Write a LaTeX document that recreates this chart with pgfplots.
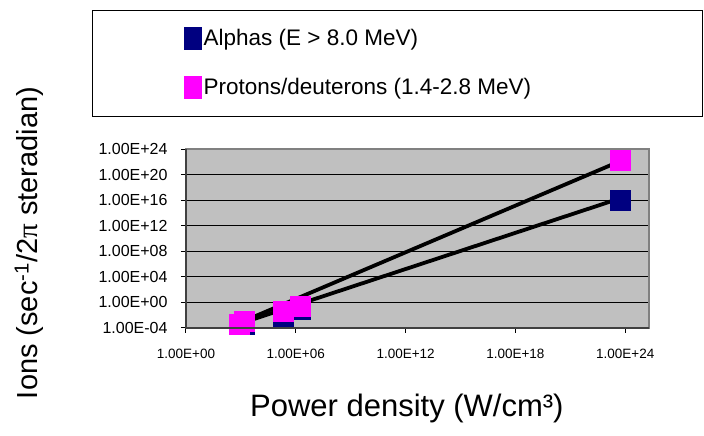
\documentclass[border=0pt]{standalone}
\usepackage{fontspec}
\setmainfont{Liberation Sans}
\newfontfamily\pifont{Liberation Serif}
\usepackage{pgfplots}
\pgfplotsset{compat=1.18}
\definecolor{navyc}{HTML}{000080}
\definecolor{magc}{HTML}{FF00FF}
\definecolor{plotgray}{HTML}{C0C0C0}
\definecolor{framegray}{HTML}{808080}
\definecolor{axisdark}{HTML}{404040}
\begin{document}
\begin{tikzpicture}
\useasboundingbox (0,0) rectangle (704pt,436pt);
\draw[line width=0.9pt] (92pt,320pt) rectangle (702pt,426pt);
\begin{axis}[
  at={(186pt,108pt)}, anchor=south west,
  scale only axis, width=463pt, height=179pt,
  xmode=log, ymode=log,
  xmin=1, xmax=2e25, ymin=1e-4, ymax=1e24,
  xtick={1,1e6,1e12,1e18,1e24},
  xticklabels={1.00E+00,1.00E+06,1.00E+12,1.00E+18,1.00E+24},
  ytick={1e-4,1,1e4,1e8,1e12,1e16,1e20,1e24},
  yticklabels={1.00E-04,1.00E+00,1.00E+04,1.00E+08,1.00E+12,1.00E+16,1.00E+20,1.00E+24},
  xminorticks=false, yminorticks=false,
  tick align=outside, xtick pos=bottom, ytick pos=left,
  major tick length=5pt,
  tick style={black, line width=1pt},
  ymajorgrids, grid style={black, line width=0.8pt},
  axis background/.style={fill=plotgray},
  axis line style={draw=framegray, line width=1.5pt},
  xticklabel style={font=\fontsize{13.5}{16}\selectfont, yshift=-13pt},
  yticklabel style={font=\fontsize{16}{18}\selectfont, xshift=-10pt},
  xlabel={Power density (W/cm³)},
  xlabel style={at={(axis description cs:0.477,-0.447)}, anchor=center, font=\fontsize{31}{36}\selectfont},
  ylabel={Ions (sec\textsuperscript{-1}/2{\pifont π} steradian)},
  ylabel style={at={(axis description cs:-0.339,0.475)}, anchor=center, font=\fontsize{29}{34}\selectfont},
  clip=false,
  legend style={draw=none, fill=none, at={(axis description cs:-0.0043,1.685)}, anchor=north west,
    font=\fontsize{22.5}{26}\selectfont, row sep=27pt, inner sep=0pt},
  legend cell align=left,
  legend image code/.code={\fill[#1] (0pt,-11pt) rectangle (17pt,11pt);},
  after end axis/.code={\draw[line width=1.8pt, axisdark] (rel axis cs:0,1) -- (rel axis cs:0,0) -- (rel axis cs:1,0);},
]
\addplot[only marks, mark=square*, mark size=10pt, color=navyc] coordinates {
(1450,4.3e-4) (2.1e5,7.6e-3) (1.66e6,9.3e-2) (5.4e23,1.1e16)};
\addlegendentry{Alphas (E > 8.0 MeV)}
\addplot[only marks, mark=square*, mark size=10pt, color=magc] coordinates {
(780,3.5e-4) (1450,1.26e-3) (2.1e5,4.6e-2) (1.66e6,0.27) (5.4e23,1.9e22)};
\addlegendentry{Protons/deuterons (1.4-2.8 MeV)}
\addplot[black, line width=3.8pt, forget plot] coordinates {(250,1.45e-4) (4.2e23,1.55e16)};
\addplot[black, line width=3.8pt, forget plot] coordinates {(250,1.45e-4) (4.2e23,9.5e21)};
\end{axis}
\end{tikzpicture}
\end{document}
